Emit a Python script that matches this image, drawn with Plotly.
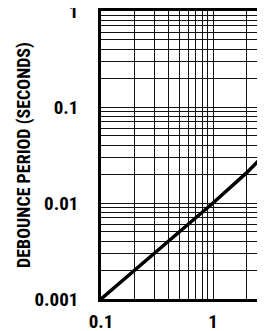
import plotly.graph_objects as go

# Data: debounce period (seconds) vs. x (log-log)
x_vals = [0.1, 1, 2, 3]
y_vals = [0.001, 0.01, 0.0207, 0.0335]

# Grid/tick positions
x_ticks = [0.1, 0.2, 0.3, 0.4, 0.5, 0.6, 0.7, 0.8, 0.9, 1, 2, 3]
x_ticktext = ["0.1", "", "", "", "", "", "", "", "", "1", "", ""]
y_ticks = [0.001, 0.002, 0.003, 0.004, 0.005, 0.006, 0.007, 0.008, 0.009,
           0.01, 0.02, 0.03, 0.04, 0.05, 0.06, 0.07, 0.08, 0.09,
           0.1, 0.2, 0.3, 0.4, 0.5, 0.6, 0.7, 0.8, 0.9, 1]
y_ticktext = ["0.001"] + [""] * 8 + ["0.01"] + [""] * 8 + ["0.1"] + [""] * 8 + ["1"]

FONT = "Roboto Condensed, DejaVu Sans Condensed, sans-serif"

fig = go.Figure()
fig.add_trace(go.Scatter(x=x_vals, y=y_vals, mode="lines",
                         line=dict(color="black", width=3.5),
                         showlegend=False, cliponaxis=True))

# page body has an 8px margin, so the figure is sized to the visible window
fig.update_layout(
    width=257, height=323,
    margin=dict(l=93, r=0, t=3, b=32),
    paper_bgcolor="white", plot_bgcolor="white",
    font=dict(family=FONT, color="black"),
)
fig.update_xaxes(
    type="log", range=[-1, 0.464], automargin=False,
    tickvals=x_ticks, ticktext=x_ticktext,
    tickfont=dict(size=19, weight="bold"),
    ticks="outside", ticklen=3, tickcolor="rgba(0,0,0,0)",
    ticklabeloverflow="allow",
    showgrid=True, gridcolor="#111", gridwidth=1.3,
    showline=True, linecolor="black", linewidth=2.5, mirror=True,
    zeroline=False,
)
fig.update_yaxes(
    type="log", range=[-3, 0], automargin=False,
    tickvals=y_ticks, ticktext=y_ticktext,
    tickfont=dict(size=19, weight="bold"),
    ticks="outside", ticklen=16, tickcolor="rgba(0,0,0,0)",
    ticklabeloverflow="allow",
    showgrid=True, gridcolor="#111", gridwidth=1.3,
    showline=True, linecolor="black", linewidth=2.5, mirror=False,
    zeroline=False,
    title=dict(text="DEBOUNCE PERIOD (SECONDS)",
               font=dict(size=18, weight="bold"), standoff=0),
)

fig.write_html("out.html")
